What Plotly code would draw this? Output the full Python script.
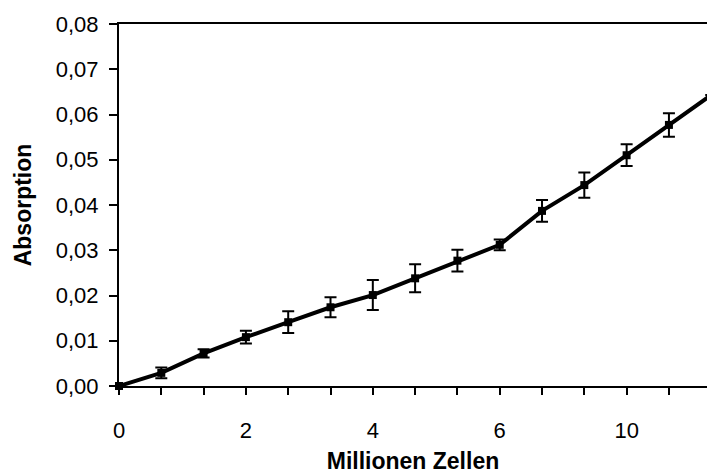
import plotly.graph_objects as go

# Category positions (every 2/3 million cells)
x_index = list(range(15))
absorption = [0.0000, 0.0029, 0.0072, 0.0108, 0.0141, 0.0174, 0.0201, 0.0238,
              0.0277, 0.0312, 0.0387, 0.0444, 0.0510, 0.0577, 0.0643]
error = [0.0000, 0.0012, 0.0009, 0.0014, 0.0024, 0.0022, 0.0033, 0.0031,
         0.0024, 0.0012, 0.0024, 0.0028, 0.0024, 0.0026, 0.0000]

x_labels = {0: "0", 3: "2", 6: "4", 9: "6", 12: "10"}
x_ticktext = [x_labels.get(i, "") for i in x_index]
y_tickvals = [0.00, 0.01, 0.02, 0.03, 0.04, 0.05, 0.06, 0.07, 0.08]
y_ticktext = ["0,00", "0,01", "0,02", "0,03", "0,04", "0,05", "0,06", "0,07", "0,08"]

font = "Liberation Sans"

fig = go.Figure()
fig.add_trace(go.Scatter(
    x=x_index, y=absorption, mode="lines+markers",
    line=dict(color="black", width=4),
    marker=dict(symbol="square", size=8, color="black"),
    error_y=dict(type="data", array=error, visible=True, color="black",
                 thickness=2, width=6),
    cliponaxis=False, showlegend=False,
))

fig.update_layout(
    width=707, height=475,
    margin=dict(l=119, r=0, t=24, b=89),
    paper_bgcolor="white", plot_bgcolor="white",
    font=dict(family=font, size=22, color="black"),
    xaxis=dict(
        range=[0, 13.9], showgrid=False, zeroline=False,
        showline=True, linecolor="black", linewidth=2, mirror=True,
        tickmode="array", tickvals=x_index, ticktext=x_ticktext,
        ticks="outside", ticklen=7, tickwidth=1.5, tickcolor="black",
        ticklabelstandoff=17, tickfont=dict(size=22),
        title=dict(text="<b>Millionen Zellen</b>", font=dict(size=23), standoff=10),
    ),
    yaxis=dict(
        range=[0, 0.08], showgrid=False, zeroline=False,
        showline=True, linecolor="black", linewidth=2,
        tickmode="array", tickvals=y_tickvals, ticktext=y_ticktext,
        ticks="outside", ticklen=8, tickwidth=1.5, tickcolor="black",
        ticklabelstandoff=6, tickfont=dict(size=22),
        title=dict(text="<b>Absorption</b>", font=dict(size=23), standoff=18),
    ),
)

fig.write_html("out.html")
